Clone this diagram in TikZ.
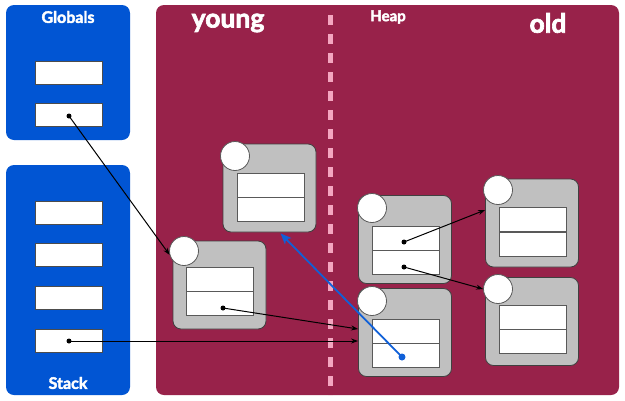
\documentclass[tikz,border=0pt]{standalone}
\usepackage{fontspec}
\setmainfont{Lato}[BoldFeatures={FakeBold=2.5}]
\usetikzlibrary{arrows.meta}
\definecolor{panelblue}{HTML}{0155D3}
\definecolor{heapred}{HTML}{98224A}
\definecolor{dashpink}{HTML}{F4A6C0}
\definecolor{objgray}{HTML}{C0C0C0}
\definecolor{ptrblue}{HTML}{1060D8}
\tikzset{
  panel/.style={rounded corners=8pt, draw=none},
  title/.style={text=white, font=\bfseries, inner sep=0pt},
  objbox/.style={draw=black!75, fill=objgray, rounded corners=8pt, line width=0.8pt, minimum width=93pt, minimum height=88pt, inner sep=0pt},
  fieldbox/.style={draw=black!65, fill=white, line width=1pt, minimum width=67pt, minimum height=24pt, inner sep=0pt},
  slotbox/.style={draw=black!70, fill=white, line width=1pt, minimum width=67pt, minimum height=23pt, inner sep=0pt},
  hdr/.style={circle, draw=black!65, fill=white, line width=0.8pt, minimum size=29pt, inner sep=0pt},
  ptr/.style={line width=1pt, black, -{Stealth[length=7pt,width=5pt]}},
  bptr/.style={line width=1.8pt, ptrblue, -{Stealth[length=11pt,width=9pt,inset=3pt]}},
  dotmark/.style={circle, fill=black, minimum size=5pt, inner sep=0pt},
}
\begin{document}
\begin{tikzpicture}[x=1pt,y=-1pt]
\useasboundingbox (0,0) rectangle (625,400);
\fill[white] (0,0) rectangle (625,400);
% panels
\fill[panel, panelblue] (6,5) rectangle (130,140);
\fill[panel, panelblue] (6,165) rectangle (130,395);
\fill[panel, heapred] (156,5) rectangle (619,395);
\node[title, font=\bfseries\fontsize{16}{18}\selectfont] (tglob) at (68,17) {Globals};
\node[title, font=\bfseries\fontsize{16}{18}\selectfont] (tstack) at (68,383) {Stack};
\node[title, font=\bfseries\fontsize{26.5}{30}\selectfont] (tyoung) at (228,23) {young};
\node[title, font=\bfseries\fontsize{15}{17}\selectfont] (theap) at (388,17) {Heap};
\node[title, font=\bfseries\fontsize{26.5}{30}\selectfont] (told) at (548,23) {old};
% dashed divider
\coordinate (dtop) at (330,15);
\coordinate (dbot) at (330,395);
\draw[dashpink, line width=5pt, dash pattern=on 10pt off 9pt] (dtop) -- (dbot);
% global slots
\node[slotbox] (g1) at (68.5,72.5) {};
\node[slotbox] (g2) at (68.5,114.5) {};
% stack slots
\node[slotbox] (s1) at (68.5,212.5) {};
\node[slotbox] (s2) at (68.5,255) {};
\node[slotbox] (s3) at (68.5,298) {};
\node[slotbox] (s4) at (68.5,341) {};
% objects
\node[objbox] (A) at (269.5,188) {};
\node[fieldbox] (A1) at (270.5,185.5) {};
\node[fieldbox] (A2) at (270.5,209.5) {};
\node[hdr] (cA) at (235,156) {};

\node[objbox] (B) at (219.5,285) {};
\node[fieldbox] (B1) at (220,279.5) {};
\node[fieldbox] (B2) at (220,303.5) {};
\node[hdr] (cB) at (184,251) {};

\node[objbox] (C) at (405,239.5) {};
\node[fieldbox] (C1) at (405.5,238) {};
\node[fieldbox] (C2) at (405.5,262) {};
\node[hdr] (cC) at (372,208) {};

\node[objbox] (D) at (405,332.5) {};
\node[fieldbox] (D1) at (405.5,331) {};
\node[fieldbox] (D2) at (405.5,355) {};
\node[hdr] (cD) at (372,301) {};

\node[objbox] (E) at (532,223) {};
\node[fieldbox] (E1) at (533,219.5) {};
\node[fieldbox] (E2) at (533,244) {};
\node[hdr] (cE) at (498,190) {};

\node[objbox] (F) at (532,321.5) {};
\node[fieldbox] (F1) at (533,317.5) {};
\node[fieldbox] (F2) at (533,341.5) {};
\node[hdr] (cF) at (498,289) {};
% pointer origins
\node[dotmark] (pg2) at (69,116) {};
\node[dotmark] (ps4) at (69,341) {};
\node[dotmark] (pB2) at (223,308) {};
\node[dotmark] (pC1) at (404,242) {};
\node[dotmark] (pC2) at (404,267) {};
\node[circle, fill=ptrblue, minimum size=7pt, inner sep=0pt] (pD2) at (402,357) {};
% pointers
\draw[ptr] (pg2.center) -- (cB.195);
\draw[ptr] (ps4.center) -- (ps4.center -| D.west);
\draw[ptr] (pB2.center) -- ([yshift=3.5pt]D.west);
\draw[ptr] (pC1.center) -- ([yshift=13pt]E.west);
\draw[ptr] (pC2.center) -- (cF.west);
\draw[bptr] (pD2.center) -- ([xshift=11pt,yshift=-1pt]A.south);
\end{tikzpicture}
\end{document}
